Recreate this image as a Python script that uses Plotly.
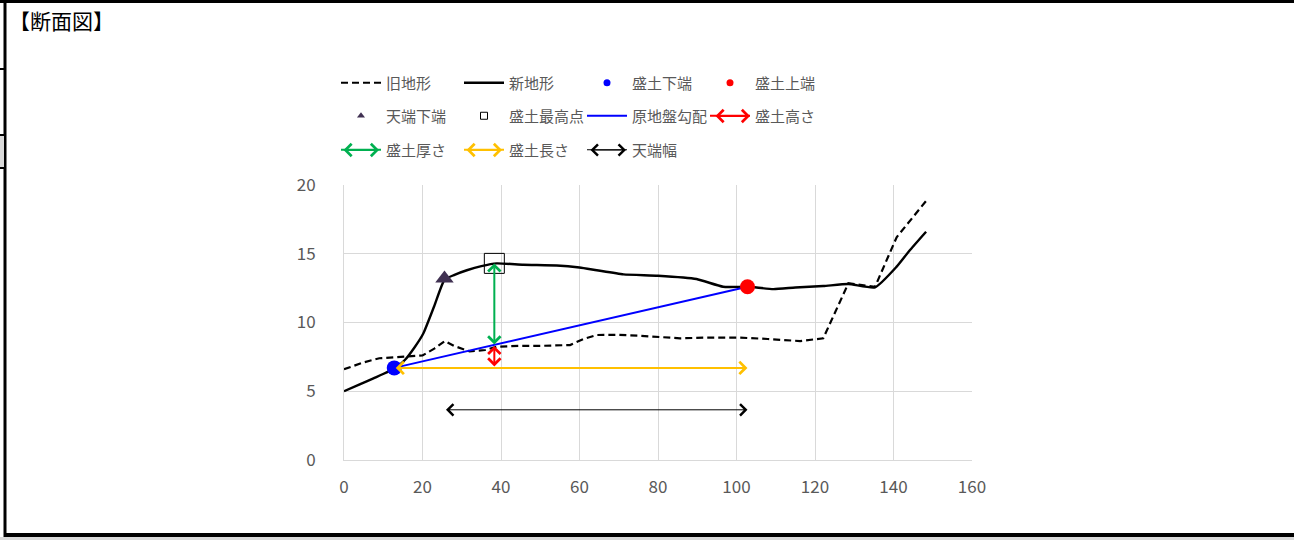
import plotly.graph_objects as go

# ---- data ----
old_x = [0, 5, 9, 15, 20, 23, 25.7, 28, 32, 36, 39, 45, 50, 57.6, 61, 64.4, 70, 75, 80, 85.6, 92, 100.9, 108, 116.2, 122.1, 128.5, 135.3, 140.8, 148.3]
old_y = [6.6, 7.1, 7.4, 7.5, 7.6, 8.1, 8.65, 8.3, 7.9, 8.0, 8.24, 8.3, 8.3, 8.36, 8.8, 9.09, 9.1, 9.04, 8.95, 8.85, 8.9, 8.9, 8.8, 8.65, 8.85, 12.85, 12.6, 16.2, 18.84]
new_x = [0, 4, 7.5, 13, 15.5, 18, 20.2, 23, 25.6, 28, 31.3, 35, 38.9, 45.7, 54.2, 60, 64.4, 71.2, 80, 89.8, 96.6, 102.8, 109.4, 115, 122.1, 128.5, 135.3, 140.8, 144, 148.3]
new_y = [5.0, 5.5, 5.94, 6.67, 7.27, 8.2, 9.2, 11.2, 13.1, 13.45, 13.8, 14.1, 14.3, 14.2, 14.15, 14.0, 13.8, 13.5, 13.4, 13.16, 12.6, 12.6, 12.43, 12.55, 12.65, 12.8, 12.56, 14.06, 15.2, 16.6]

toe_bottom = (12.8, 6.7)      # 盛土下端
toe_top = (102.8, 12.6)       # 盛土上端
crest_low = (25.6, 13.2)      # 天端下端
fill_peak = (38.3, 14.3)      # 盛土最高点
slope_at_peak_y = 8.3         # 原地盤勾配 at peak x
crest_width_y = 3.65          # 天端幅 level

x_ticks = [0, 20, 40, 60, 80, 100, 120, 140, 160]
y_ticks = [0, 5, 10, 15, 20]

W, H = 1294, 540
L, R, T, B = 344, 972, 185, 460
def px(xpix):
    return (xpix - L) / (R - L)
def py(ypix):
    return (B - ypix) / (B - T)

FONT = "Noto Sans CJK JP"
GRAY = "#595959"
RED, GREEN, YELLOW, BLUE = "#ff0000", "#00b050", "#ffc000", "#0000ff"

fig = go.Figure()

# main traces
fig.add_trace(go.Scatter(x=old_x, y=old_y, mode="lines", name="旧地形",
                         line=dict(color="black", width=2.2, dash="7px,4px"), legend="legend"))
fig.add_trace(go.Scatter(x=new_x, y=new_y, mode="lines", name="新地形", line_shape="spline",
                         line=dict(color="black", width=2.4, smoothing=0.5), legend="legend"))
fig.add_trace(go.Scatter(x=[toe_bottom[0], toe_top[0]], y=[toe_bottom[1], toe_top[1]], mode="lines",
                         name="原地盤勾配", line=dict(color=BLUE, width=2), showlegend=False))
fig.add_trace(go.Scatter(x=[toe_bottom[0]], y=[toe_bottom[1]], mode="markers", name="盛土下端",
                         marker=dict(color=BLUE, size=15), showlegend=False))
fig.add_trace(go.Scatter(x=[toe_top[0]], y=[toe_top[1]], mode="markers", name="盛土上端",
                         marker=dict(color=RED, size=15), showlegend=False))
fig.add_trace(go.Scatter(x=[crest_low[0]], y=[crest_low[1]], mode="markers", name="天端下端",
                         marker=dict(color="#403152", size=16, symbol="triangle-up"), showlegend=False))
fig.add_trace(go.Scatter(x=[fill_peak[0]], y=[fill_peak[1]], mode="markers", name="盛土最高点",
                         marker=dict(color="black", size=20, symbol="square-open", line=dict(width=1)),
                         showlegend=False))

# legend entries
def leg(name, legend, **kw):
    fig.add_trace(go.Scatter(x=[None], y=[None], name=name, legend=legend, **kw))

leg("盛土下端", "legend", mode="markers", marker=dict(color=BLUE, size=7))
leg("盛土上端", "legend", mode="markers", marker=dict(color=RED, size=7))
leg("天端下端", "legend2", mode="markers", marker=dict(color="#403152", size=7, symbol="triangle-up"))
leg("盛土最高点", "legend2", mode="markers", marker=dict(color="black", size=7, symbol="square-open", line=dict(width=1)))
leg("原地盤勾配", "legend2", mode="lines", line=dict(color=BLUE, width=2))
leg("盛土高さ", "legend2", mode="lines", line=dict(color=RED, width=2))
leg("盛土厚さ", "legend3", mode="lines", line=dict(color=GREEN, width=2))
leg("盛土長さ", "legend3", mode="lines", line=dict(color=YELLOW, width=2))
leg("天端幅", "legend3", mode="lines", line=dict(color="black", width=1))

def head_size(width):
    return 2.2 if width < 2 else 1.2

# arrows in the chart
def arrow(x0, y0, x1, y1, color, width):
    s = head_size(width)
    fig.add_annotation(x=x1, y=y1, ax=x0, ay=y0, xref="x", yref="y", axref="x", ayref="y",
                       text="", showarrow=True, arrowhead=4, startarrowhead=4,
                       arrowside="end+start", arrowsize=s, startarrowsize=s,
                       arrowwidth=width, arrowcolor=color, standoff=0, startstandoff=0)

arrow(fill_peak[0], toe_bottom[1], fill_peak[0], slope_at_peak_y, RED, 2)
arrow(fill_peak[0], slope_at_peak_y, fill_peak[0], fill_peak[1], GREEN, 2)
arrow(toe_bottom[0], toe_bottom[1], toe_top[0], toe_bottom[1], YELLOW, 2)
arrow(crest_low[0], crest_width_y, toe_top[0], crest_width_y, "black", 1)

# double-arrow legend symbols (decoration over legend line symbols)
for (xa, xb, yy, col, wd) in [(714, 750, 116, RED, 2), (342, 379, 150, GREEN, 2),
                              (465, 502, 150, YELLOW, 2), (589, 626, 150, "black", 1)]:
    s = head_size(wd)
    fig.add_annotation(x=px(xb), y=py(yy), xref="paper", yref="paper", axref="pixel", ayref="pixel",
                       ax=xa - xb, ay=0, text="", showarrow=True, arrowhead=4, startarrowhead=4,
                       arrowside="end+start", arrowsize=s, startarrowsize=s,
                       arrowwidth=wd, arrowcolor=col, standoff=0, startstandoff=0)

# sheet title
fig.add_annotation(x=px(7), y=py(20), xref="paper", yref="paper", xanchor="left", yanchor="middle",
                   text="【断面図】", showarrow=False, font=dict(family=FONT, size=21, color="black"))

legfont = dict(family=FONT, size=15, color=GRAY)
common = dict(orientation="h", xanchor="left", yanchor="middle", bgcolor="rgba(0,0,0,0)",
              font=legfont, entrywidth=68, entrywidthmode="pixels", itemwidth=40)

# frame shapes (spreadsheet cell borders)
shapes = [
    dict(type="line", xref="paper", yref="paper", x0=px(0), x1=px(W), y0=py(1.5), y1=py(1.5),
         line=dict(color="black", width=3)),
    dict(type="line", xref="paper", yref="paper", x0=px(5), x1=px(5), y0=py(0), y1=py(537),
         line=dict(color="black", width=3)),
    dict(type="rect", xref="paper", yref="paper", x0=px(0), x1=px(W), y0=py(537), y1=py(541),
         line=dict(width=0), fillcolor="#d9d9d9"),
    dict(type="line", xref="paper", yref="paper", x0=px(5), x1=px(W), y0=py(535), y1=py(535),
         line=dict(color="black", width=4)),
    dict(type="rect", xref="paper", yref="paper", x0=px(0), x1=px(4), y0=py(136), y1=py(167),
         line=dict(width=0), fillcolor="#d9d9d9"),
]
for yy in (69, 135, 168):
    shapes.append(dict(type="line", xref="paper", yref="paper", x0=px(0), x1=px(5), y0=py(yy), y1=py(yy),
                       line=dict(color="black", width=2)))

fig.update_layout(
    width=W, height=H,
    margin=dict(l=L, r=W - R, t=T, b=H - B, pad=0),
    paper_bgcolor="white", plot_bgcolor="white",
    xaxis=dict(range=[0, 160], tickvals=x_ticks, showgrid=True, gridcolor="#d9d9d9", gridwidth=1,
               zeroline=False, showline=True, linecolor="#d9d9d9", mirror=False,
               tickfont=dict(family=FONT, size=17, color=GRAY), ticklabelstandoff=12, fixedrange=True),
    yaxis=dict(range=[0, 20], tickvals=y_ticks, showgrid=True, gridcolor="#d9d9d9", gridwidth=1,
               zeroline=False, showline=True, linecolor="#d9d9d9",
               tickfont=dict(family=FONT, size=17, color=GRAY), ticklabelstandoff=24, fixedrange=True),
    legend=dict(x=px(336), y=py(83), **common),
    legend2=dict(x=px(336), y=py(116), **common),
    legend3=dict(x=px(336), y=py(150), **common),
    shapes=shapes,
    showlegend=True,
)

fig.write_html("out.html", config={"displayModeBar": False},
               post_script="document.body.style.margin='0';document.body.style.overflow='hidden';")
